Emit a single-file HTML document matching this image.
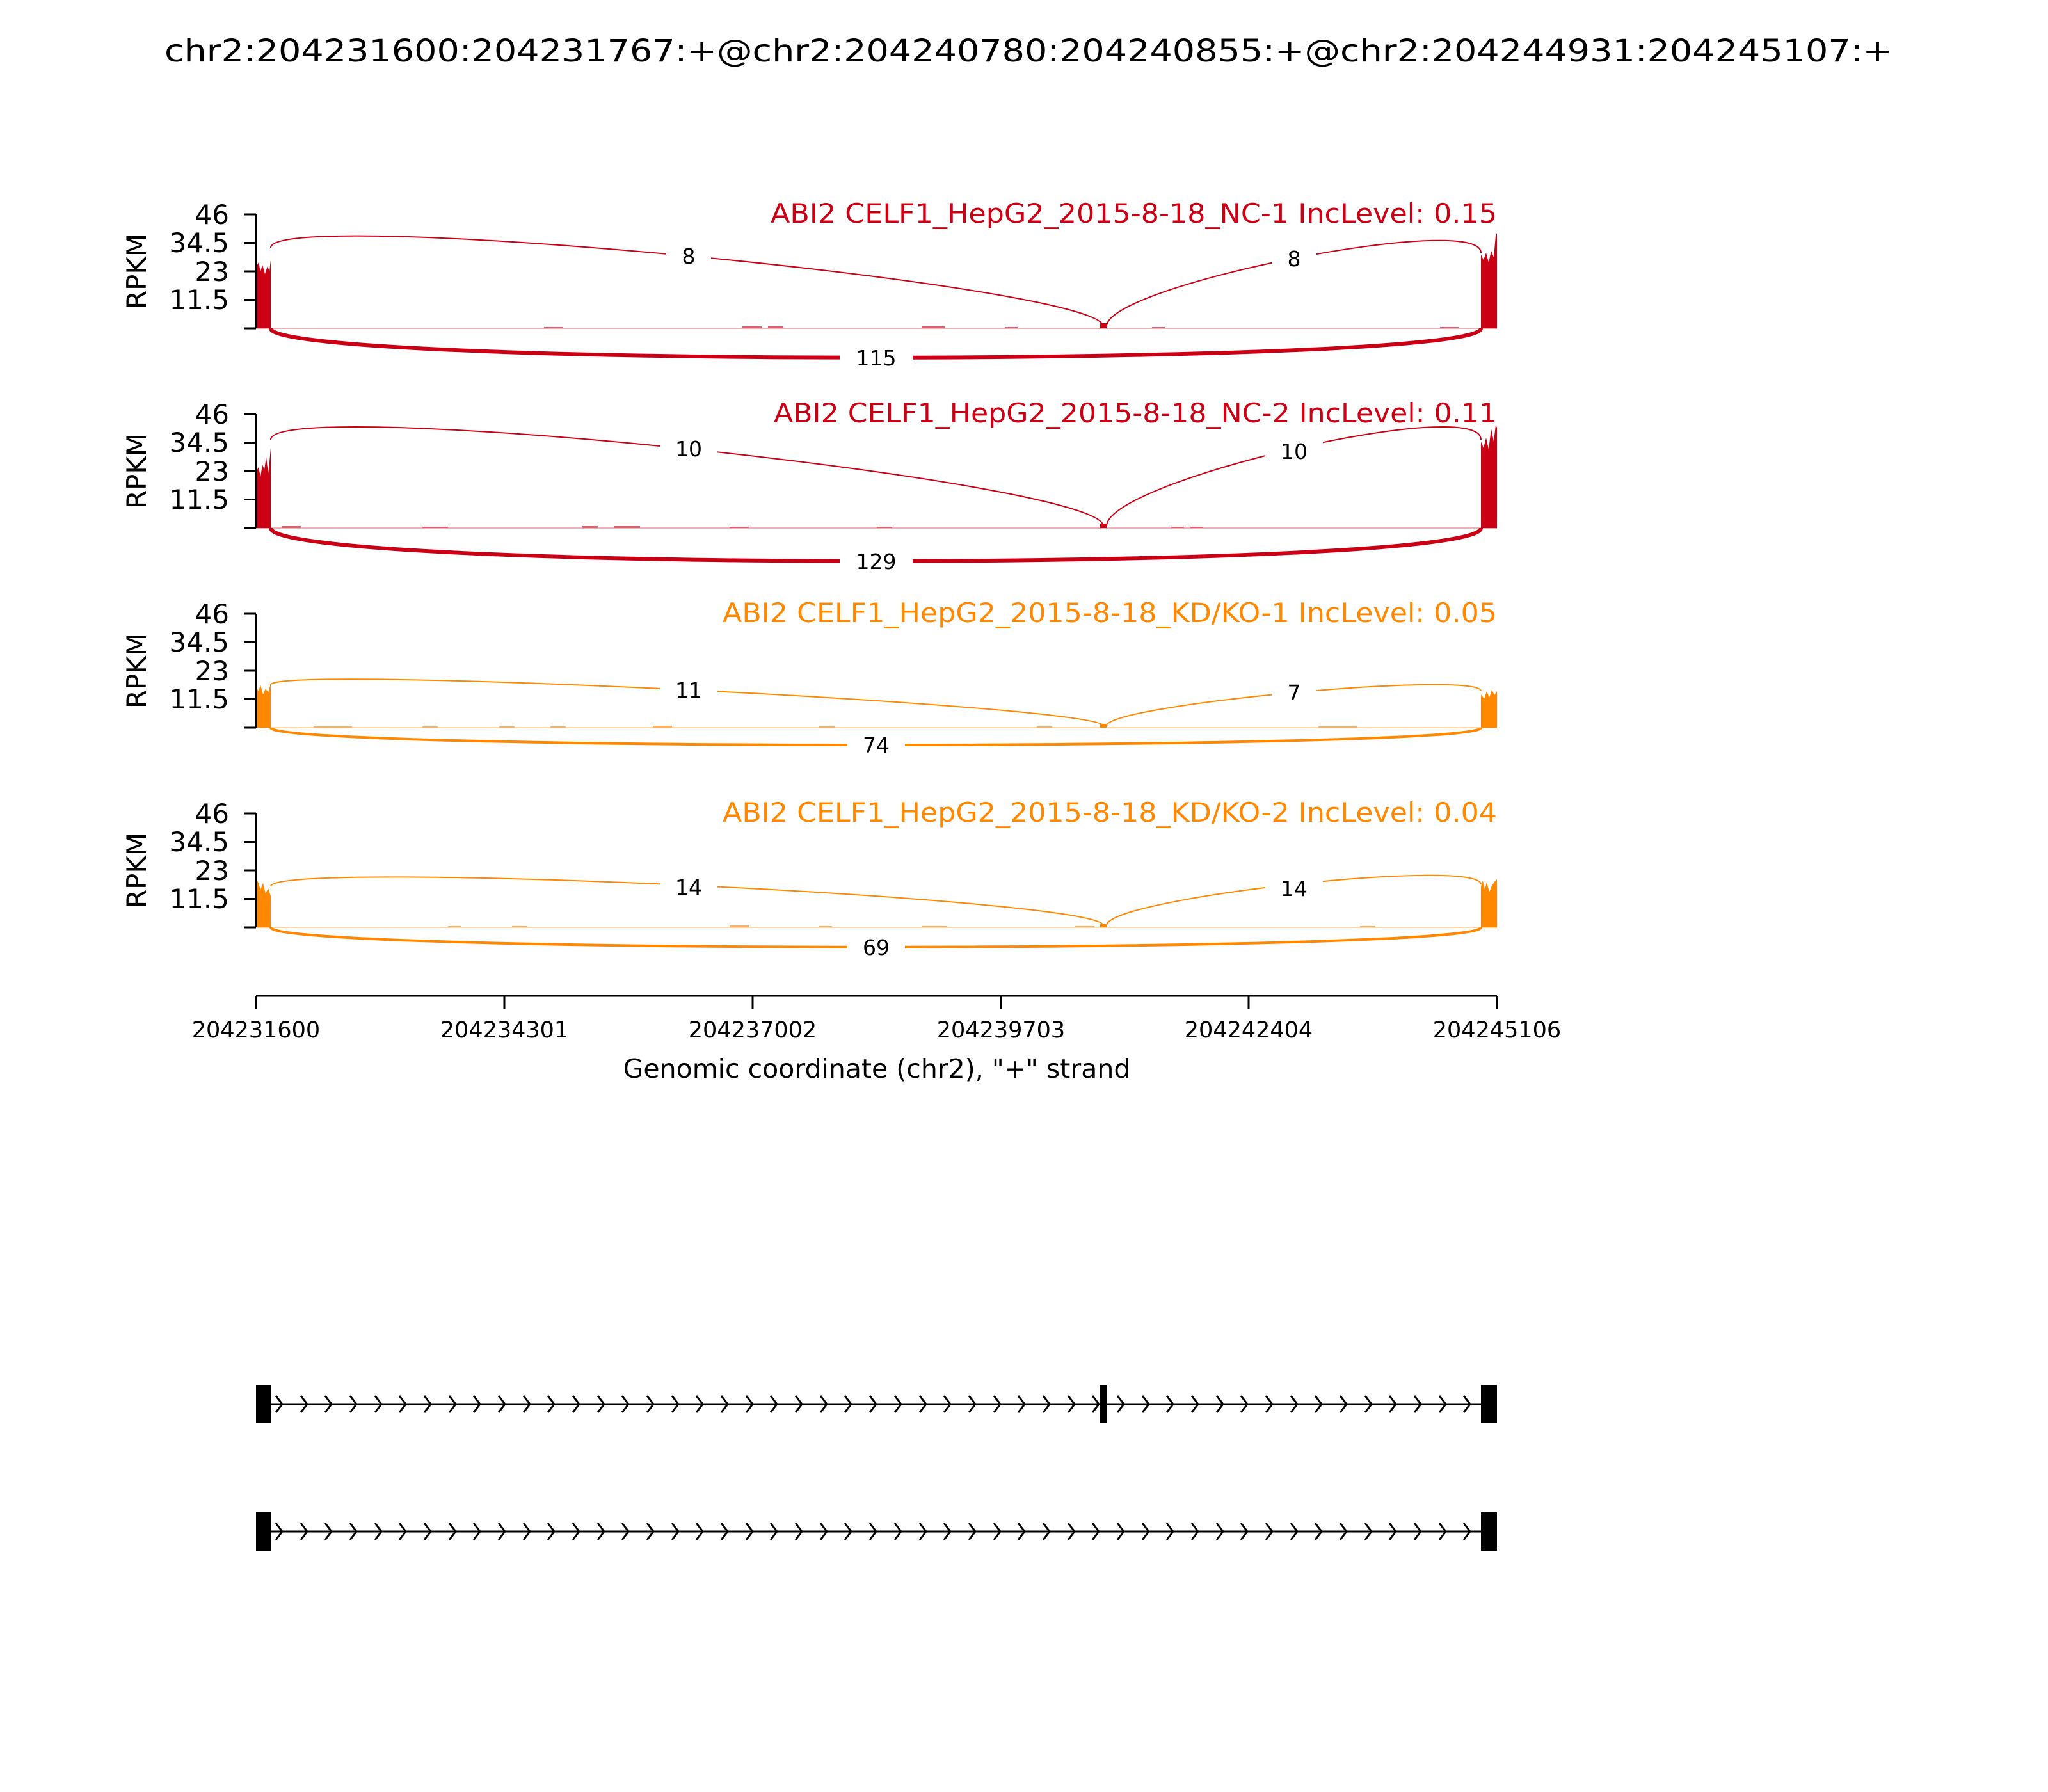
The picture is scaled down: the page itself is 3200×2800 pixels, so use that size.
<!DOCTYPE html>
<html><head><meta charset="utf-8"><style>
html,body{margin:0;padding:0;background:#fff;}
svg{display:block;}
text{font-family:"DejaVu Sans","Liberation Sans",sans-serif;}
</style></head><body>
<svg width="3200" height="2800" viewBox="0 0 3200 2800" xmlns="http://www.w3.org/2000/svg">
<rect width="3200" height="2800" fill="#fff"/>
<text x="1607" y="96" font-size="48" text-anchor="middle" textLength="2700" lengthAdjust="spacingAndGlyphs">chr2:204231600:204231767:+@chr2:204240780:204240855:+@chr2:204244931:204245107:+</text>

<!-- Panel 1 -->
<g>
<line x1="400" y1="513" x2="2339" y2="513" stroke="#f0b0b5" stroke-width="2"/>
<rect x="1719" y="505" width="10" height="8" fill="#cc0015"/>
<rect x="850" y="511" width="30" height="2" fill="#e06070"/><rect x="1160" y="510" width="30" height="3" fill="#e06070"/><rect x="1200" y="510" width="24" height="3" fill="#e06070"/><rect x="1440" y="510" width="36" height="3" fill="#e06070"/><rect x="1570" y="511" width="20" height="2" fill="#e06070"/><rect x="1800" y="511" width="20" height="2" fill="#e06070"/><rect x="2250" y="511" width="30" height="2" fill="#e06070"/>
<polygon fill="#cc0015" points="400,513 400,418 404,410 407,424 410,414 414,428 418,416 421,424 423,406 423,513"/>
<polygon fill="#cc0015" points="2314,513 2314,398 2318,406 2322,395 2326,410 2330,392 2334,402 2337,368 2339,364 2339,513"/>
<g fill="none" stroke="#cc0015">
<path d="M423,387 C423,322 1724,445 1724,510" stroke-width="2"/>
<path d="M1729,510 C1729,445 2314,330 2314,395" stroke-width="2"/>
<path d="M423,513 C423,574 2314,574 2314,513" stroke-width="6"/>
</g>
<rect x="1041" y="380" width="70" height="40" fill="#fff"/><text x="1076" y="412" font-size="33" text-anchor="middle">8</text>
<rect x="1987" y="384" width="70" height="40" fill="#fff"/><text x="2022" y="416" font-size="33" text-anchor="middle">8</text>
<rect x="1312" y="539" width="114" height="40" fill="#fff"/><text x="1369" y="571" font-size="33" text-anchor="middle">115</text>
<text x="2339" y="348" font-size="42" fill="#cc0015" text-anchor="end" textLength="1135" lengthAdjust="spacingAndGlyphs">ABI2 CELF1_HepG2_2015-8-18_NC-1 IncLevel: 0.15</text>
</g>

<!-- Panel 2 -->
<g>
<line x1="400" y1="825" x2="2339" y2="825" stroke="#f0b0b5" stroke-width="2"/>
<rect x="1719" y="818" width="10" height="7" fill="#cc0015"/>
<rect x="440" y="822" width="30" height="3" fill="#e06070"/><rect x="660" y="823" width="40" height="2" fill="#e06070"/><rect x="910" y="822" width="24" height="3" fill="#e06070"/><rect x="960" y="822" width="40" height="3" fill="#e06070"/><rect x="1140" y="823" width="30" height="2" fill="#e06070"/><rect x="1370" y="823" width="24" height="2" fill="#e06070"/><rect x="1830" y="823" width="20" height="2" fill="#e06070"/><rect x="1860" y="823" width="20" height="2" fill="#e06070"/>
<polygon fill="#cc0015" points="400,825 400,738 404,730 407,745 410,726 413,734 416,714 419,740 421,722 423,700 423,825"/>
<polygon fill="#cc0015" points="2314,825 2314,690 2318,700 2322,684 2326,702 2330,670 2334,690 2337,664 2339,668 2339,825"/>
<g fill="none" stroke="#cc0015">
<path d="M423,687 C423,616 1724,751 1724,822" stroke-width="2"/>
<path d="M1729,822 C1729,751 2314,616 2314,687" stroke-width="2"/>
<path d="M423,825 C423,894 2314,894 2314,825" stroke-width="6"/>
</g>
<rect x="1031" y="681" width="90" height="40" fill="#fff"/><text x="1076" y="713" font-size="33" text-anchor="middle">10</text>
<rect x="1977" y="685" width="90" height="40" fill="#fff"/><text x="2022" y="717" font-size="33" text-anchor="middle">10</text>
<rect x="1312" y="857" width="114" height="40" fill="#fff"/><text x="1369" y="889" font-size="33" text-anchor="middle">129</text>
<text x="2339" y="660" font-size="42" fill="#cc0015" text-anchor="end" textLength="1130" lengthAdjust="spacingAndGlyphs">ABI2 CELF1_HepG2_2015-8-18_NC-2 IncLevel: 0.11</text>
</g>

<!-- Panel 3 -->
<g>
<line x1="400" y1="1137" x2="2339" y2="1137" stroke="#ffd8a8" stroke-width="2"/>
<rect x="1719" y="1131" width="10" height="6" fill="#ff8800"/>
<rect x="490" y="1135" width="60" height="2" fill="#ffb060"/><rect x="660" y="1135" width="24" height="2" fill="#ffb060"/><rect x="780" y="1135" width="24" height="2" fill="#ffb060"/><rect x="860" y="1135" width="24" height="2" fill="#ffb060"/><rect x="1020" y="1134" width="30" height="3" fill="#ffb060"/><rect x="1280" y="1135" width="24" height="2" fill="#ffb060"/><rect x="1620" y="1135" width="24" height="2" fill="#ffb060"/><rect x="2060" y="1135" width="60" height="2" fill="#ffb060"/>
<polygon fill="#ff8800" points="400,1137 400,1074 404,1080 407,1070 411,1085 415,1076 419,1082 423,1068 423,1137"/>
<polygon fill="#ff8800" points="2314,1137 2314,1085 2319,1092 2323,1080 2327,1090 2331,1078 2335,1086 2339,1080 2339,1137"/>
<g fill="none" stroke="#ff8800">
<path d="M423,1070 C423,1038 1724,1102 1724,1134" stroke-width="2"/>
<path d="M1729,1134 C1729,1101 2314,1047 2314,1080" stroke-width="2"/>
<path d="M423,1137 C423,1173 2314,1173 2314,1137" stroke-width="4"/>
</g>
<rect x="1031" y="1058" width="90" height="40" fill="#fff"/><text x="1076" y="1090" font-size="33" text-anchor="middle">11</text>
<rect x="1987" y="1062" width="70" height="40" fill="#fff"/><text x="2022" y="1094" font-size="33" text-anchor="middle">7</text>
<rect x="1324" y="1144" width="90" height="40" fill="#fff"/><text x="1369" y="1176" font-size="33" text-anchor="middle">74</text>
<text x="2339" y="972" font-size="42" fill="#ff8800" text-anchor="end" textLength="1210" lengthAdjust="spacingAndGlyphs">ABI2 CELF1_HepG2_2015-8-18_KD/KO-1 IncLevel: 0.05</text>
</g>

<!-- Panel 4 -->
<g>
<line x1="400" y1="1449" x2="2339" y2="1449" stroke="#ffd8a8" stroke-width="2"/>
<rect x="1719" y="1444" width="10" height="5" fill="#ff8800"/>
<rect x="700" y="1447" width="20" height="2" fill="#ffb060"/><rect x="800" y="1447" width="24" height="2" fill="#ffb060"/><rect x="1140" y="1446" width="30" height="3" fill="#ffb060"/><rect x="1280" y="1447" width="20" height="2" fill="#ffb060"/><rect x="1440" y="1447" width="40" height="2" fill="#ffb060"/><rect x="1680" y="1447" width="30" height="2" fill="#ffb060"/><rect x="2125" y="1447" width="24" height="2" fill="#ffb060"/>
<polygon fill="#ff8800" points="400,1449 400,1372 404,1380 407,1390 411,1380 415,1396 419,1388 423,1400 423,1449"/>
<polygon fill="#ff8800" points="2314,1449 2314,1385 2317,1376 2320,1390 2323,1378 2327,1394 2331,1384 2335,1378 2339,1374 2339,1449"/>
<g fill="none" stroke="#ff8800">
<path d="M423,1385 C423,1342 1724,1403 1724,1446" stroke-width="2"/>
<path d="M1729,1446 C1729,1403 2314,1339 2314,1382" stroke-width="2"/>
<path d="M423,1449 C423,1490 2314,1490 2314,1449" stroke-width="4"/>
</g>
<rect x="1031" y="1366" width="90" height="40" fill="#fff"/><text x="1076" y="1398" font-size="33" text-anchor="middle">14</text>
<rect x="1977" y="1368" width="90" height="40" fill="#fff"/><text x="2022" y="1400" font-size="33" text-anchor="middle">14</text>
<rect x="1324" y="1460" width="90" height="40" fill="#fff"/><text x="1369" y="1492" font-size="33" text-anchor="middle">69</text>
<text x="2339" y="1284" font-size="42" fill="#ff8800" text-anchor="end" textLength="1210" lengthAdjust="spacingAndGlyphs">ABI2 CELF1_HepG2_2015-8-18_KD/KO-2 IncLevel: 0.04</text>
</g>

<!-- Y axes -->
<g stroke="#000" stroke-width="3" fill="none">
<path d="M400,335 V513 M381,335 H400 M381,379.5 H400 M381,424 H400 M381,468.5 H400 M381,513 H400"/>
<path d="M400,647 V825 M381,647 H400 M381,691.5 H400 M381,736 H400 M381,780.5 H400 M381,825 H400"/>
<path d="M400,959 V1137 M381,959 H400 M381,1003.5 H400 M381,1048 H400 M381,1092.5 H400 M381,1137 H400"/>
<path d="M400,1271 V1449 M381,1271 H400 M381,1315.5 H400 M381,1360 H400 M381,1404.5 H400 M381,1449 H400"/>
</g>
<g font-size="42" text-anchor="end">
<text x="358" y="350">46</text><text x="358" y="394">34.5</text><text x="358" y="439">23</text><text x="358" y="483">11.5</text>
<text x="358" y="662">46</text><text x="358" y="706">34.5</text><text x="358" y="751">23</text><text x="358" y="795">11.5</text>
<text x="358" y="974">46</text><text x="358" y="1018">34.5</text><text x="358" y="1063">23</text><text x="358" y="1107">11.5</text>
<text x="358" y="1286">46</text><text x="358" y="1330">34.5</text><text x="358" y="1375">23</text><text x="358" y="1419">11.5</text>
</g>
<g font-size="42" text-anchor="middle">
<text transform="translate(228,424) rotate(-90)">RPKM</text>
<text transform="translate(228,736) rotate(-90)">RPKM</text>
<text transform="translate(228,1048) rotate(-90)">RPKM</text>
<text transform="translate(228,1360) rotate(-90)">RPKM</text>
</g>

<!-- X axis -->
<g stroke="#000" stroke-width="3" fill="none">
<path d="M400,1556 H2339 M400,1556 V1576 M788,1556 V1576 M1176,1556 V1576 M1564,1556 V1576 M1951,1556 V1576 M2339,1556 V1576"/>
</g>
<g font-size="35" text-anchor="middle">
<text x="400" y="1621">204231600</text><text x="788" y="1621">204234301</text><text x="1176" y="1621">204237002</text>
<text x="1564" y="1621">204239703</text><text x="1951" y="1621">204242404</text><text x="2339" y="1621">204245106</text>
</g>
<text x="1370" y="1684" font-size="41" text-anchor="middle">Genomic coordinate (chr2), "+" strand</text>

<!-- Gene models -->
<defs>
<path id="chev" d="M-10,-13 L0,0 L-10,13" fill="none" stroke="#000" stroke-width="3"/>
</defs>
<g>
<line x1="400" y1="2194" x2="2339" y2="2194" stroke="#000" stroke-width="3"/>
<rect x="400" y="2164" width="24" height="60" fill="#000"/>
<rect x="1718" y="2164" width="11" height="60" fill="#000"/>
<rect x="2314" y="2164" width="25" height="60" fill="#000"/>
<line x1="400" y1="2393" x2="2339" y2="2393" stroke="#000" stroke-width="3"/>
<rect x="400" y="2363" width="24" height="60" fill="#000"/>
<rect x="2314" y="2363" width="25" height="60" fill="#000"/>
</g>
<g id="chevrow">
<use href="#chev" x="441" y="2194"/><use href="#chev" x="480" y="2194"/><use href="#chev" x="518" y="2194"/><use href="#chev" x="557" y="2194"/><use href="#chev" x="596" y="2194"/><use href="#chev" x="634" y="2194"/><use href="#chev" x="673" y="2194"/><use href="#chev" x="712" y="2194"/><use href="#chev" x="750" y="2194"/><use href="#chev" x="789" y="2194"/><use href="#chev" x="828" y="2194"/><use href="#chev" x="866" y="2194"/><use href="#chev" x="905" y="2194"/><use href="#chev" x="944" y="2194"/><use href="#chev" x="982" y="2194"/><use href="#chev" x="1021" y="2194"/><use href="#chev" x="1060" y="2194"/><use href="#chev" x="1098" y="2194"/><use href="#chev" x="1137" y="2194"/><use href="#chev" x="1176" y="2194"/><use href="#chev" x="1214" y="2194"/><use href="#chev" x="1253" y="2194"/><use href="#chev" x="1292" y="2194"/><use href="#chev" x="1330" y="2194"/><use href="#chev" x="1369" y="2194"/><use href="#chev" x="1408" y="2194"/><use href="#chev" x="1447" y="2194"/><use href="#chev" x="1485" y="2194"/><use href="#chev" x="1524" y="2194"/><use href="#chev" x="1563" y="2194"/><use href="#chev" x="1601" y="2194"/><use href="#chev" x="1640" y="2194"/><use href="#chev" x="1679" y="2194"/><use href="#chev" x="1717" y="2194"/><use href="#chev" x="1756" y="2194"/><use href="#chev" x="1795" y="2194"/><use href="#chev" x="1833" y="2194"/><use href="#chev" x="1872" y="2194"/><use href="#chev" x="1911" y="2194"/><use href="#chev" x="1949" y="2194"/><use href="#chev" x="1988" y="2194"/><use href="#chev" x="2027" y="2194"/><use href="#chev" x="2065" y="2194"/><use href="#chev" x="2104" y="2194"/><use href="#chev" x="2143" y="2194"/><use href="#chev" x="2181" y="2194"/><use href="#chev" x="2220" y="2194"/><use href="#chev" x="2259" y="2194"/><use href="#chev" x="2297" y="2194"/>
</g>
<use href="#chevrow" x="0" y="199"/>
</svg>
</body></html>
